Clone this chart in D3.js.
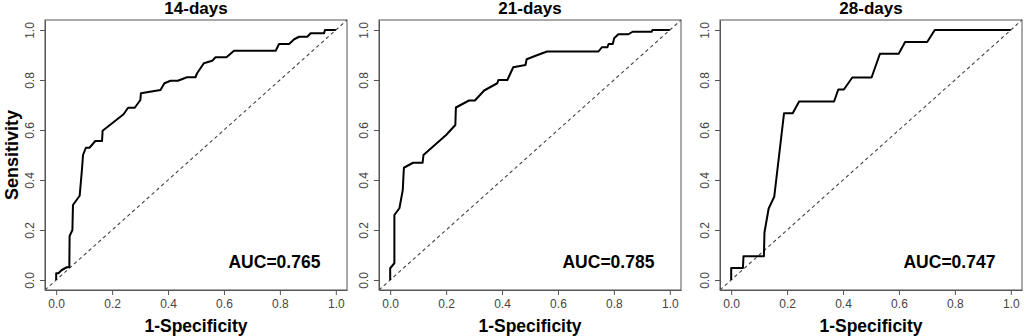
<!DOCTYPE html>
<html>
<head>
<meta charset="utf-8">
<script src="https://cdn.jsdelivr.net/npm/d3@7"></script>
<style>
  body { margin: 0; background: #fff; }
  svg { display: block; font-family: "Liberation Sans", Arial, sans-serif; }
</style>
</head>
<body>
<svg width="1026" height="336"></svg>
<script>
// точки ROC-кривых: [1-специфичность, чувствительность]
const roc14 = [
  [0, 0], [0, 0.027], [0.008, 0.027], [0.02, 0.04], [0.038, 0.051], [0.047, 0.051],
  [0.048, 0.176], [0.058, 0.2], [0.06, 0.3], [0.084, 0.337], [0.092, 0.44], [0.096, 0.5],
  [0.106, 0.529], [0.119, 0.529], [0.14, 0.556], [0.164, 0.556], [0.166, 0.597],
  [0.241, 0.663], [0.257, 0.689], [0.281, 0.689], [0.301, 0.72], [0.303, 0.747],
  [0.373, 0.76], [0.387, 0.787], [0.409, 0.797], [0.435, 0.797], [0.468, 0.811],
  [0.498, 0.811], [0.504, 0.827], [0.528, 0.867], [0.558, 0.877], [0.57, 0.891],
  [0.609, 0.891], [0.636, 0.917], [0.785, 0.917], [0.797, 0.944], [0.833, 0.944],
  [0.851, 0.963], [0.869, 0.973], [0.898, 0.973], [0.91, 0.987], [0.958, 0.987],
  [0.961, 1], [1, 1]
];
const roc21 = [
  [0, 0], [0, 0.047], [0.015, 0.067], [0.015, 0.26], [0.033, 0.287], [0.045, 0.36],
  [0.049, 0.449], [0.082, 0.469], [0.116, 0.469], [0.119, 0.5], [0.2, 0.58],
  [0.233, 0.62], [0.235, 0.69], [0.282, 0.718], [0.303, 0.718], [0.336, 0.758],
  [0.383, 0.787], [0.387, 0.8], [0.419, 0.8], [0.44, 0.851], [0.484, 0.86],
  [0.488, 0.883], [0.52, 0.897], [0.561, 0.914], [0.745, 0.914], [0.757, 0.931],
  [0.777, 0.931], [0.781, 0.944], [0.796, 0.944], [0.801, 0.967], [0.816, 0.983],
  [0.852, 0.983], [0.867, 0.993], [0.935, 0.993], [0.938, 1], [1, 1]
];
const roc28 = [
  [0, 0], [0, 0.048], [0.042, 0.048], [0.044, 0.095], [0.117, 0.095], [0.119, 0.19],
  [0.134, 0.286], [0.154, 0.333], [0.189, 0.667], [0.22, 0.667], [0.243, 0.714],
  [0.368, 0.714], [0.383, 0.762], [0.403, 0.762], [0.433, 0.81], [0.502, 0.81],
  [0.532, 0.905], [0.599, 0.905], [0.622, 0.952], [0.701, 0.952], [0.728, 1], [1, 1]
];

const panelTitles = ["14-days", "21-days", "28-days"];
const aucLabels = ["AUC=0.765", "AUC=0.785", "AUC=0.747"];
const tickValues = [0, 0.2, 0.4, 0.6, 0.8, 1.0];
const rocData = [roc14, roc21, roc28];

const svg = d3.select("svg");
const boxLefts = [45, 379, 720];
const boxW = 302, boxTop = 20, boxBottom = 290;

rocData.forEach((points, i) => {
  const left = boxLefts[i];
  // как в R: диапазон осей расширен на 4%
  const x = d3.scaleLinear().domain([-0.04, 1.04]).range([left, left + boxW]);
  const y = d3.scaleLinear().domain([-0.04, 1.04]).range([boxBottom, boxTop]);
  const g = svg.append("g");

  // диагональ
  g.append("line")
    .attr("x1", x(-0.04)).attr("y1", y(-0.04))
    .attr("x2", x(1.04)).attr("y2", y(1.04))
    .attr("stroke", "#444").attr("stroke-width", 1.1)
    .attr("stroke-dasharray", "3.5,3");

  const line = d3.line()
    .x((d) => x(d[0]))
    .y((d) => y(d[1]));
  g.append("path")
    .attr("d", line(points))
    .attr("fill", "none")
    .attr("stroke", "#000")
    .attr("stroke-width", 2)
    .attr("stroke-linejoin", "round");

  // рамка
  g.append("rect")
    .attr("x", left).attr("y", boxTop)
    .attr("width", boxW).attr("height", boxBottom - boxTop)
    .attr("fill", "none").attr("stroke", "#555").attr("stroke-width", 1);

  const xAxis = g.append("g")
    .attr("transform", `translate(0,${boxBottom})`)
    .call(d3.axisBottom(x).tickValues(tickValues).tickFormat(d3.format(".1f"))
      .tickSize(5).tickSizeOuter(0).tickPadding(4));
  const yAxis = g.append("g")
    .attr("transform", `translate(${left},0)`)
    .call(d3.axisLeft(y).tickValues(tickValues).tickFormat(d3.format(".1f"))
      .tickSize(5).tickSizeOuter(0));
  yAxis.selectAll("text")
    .attr("transform", "rotate(-90)")
    .attr("x", 0).attr("y", -11).attr("dy", 0)
    .attr("text-anchor", "middle");
  [xAxis, yAxis].forEach((a) => {
    a.select(".domain").attr("stroke", "#555");
    a.selectAll(".tick line").attr("stroke", "#555");
    a.selectAll("text").attr("font-size", 12).attr("fill", "#444")
      .attr("font-family", "Liberation Sans, Arial, sans-serif");
  });

  g.append("text")
    .attr("x", left + boxW / 2).attr("y", 14)
    .attr("text-anchor", "middle")
    .attr("font-size", 17).attr("font-weight", "bold")
    .text(panelTitles[i]);

  g.append("text")
    .attr("x", left + boxW / 2).attr("y", 332)
    .attr("text-anchor", "middle")
    .attr("font-size", 17.5).attr("font-weight", "bold")
    .text("1-Specificity");

  g.append("text")
    .attr("x", x(0.945)).attr("y", y(0.05))
    .attr("text-anchor", "end")
    .attr("font-size", 17.5).attr("font-weight", "bold")
    .text(aucLabels[i]);
});

svg.append("text")
  .attr("transform", `translate(18,${(boxTop + boxBottom) / 2}) rotate(-90)`)
  .attr("text-anchor", "middle")
  .attr("font-size", 18).attr("font-weight", "bold")
  .text("Sensitivity");
</script>
</body>
</html>
